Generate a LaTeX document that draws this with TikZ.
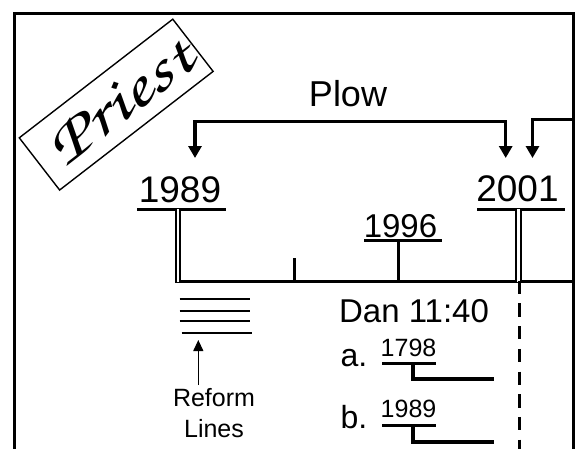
\documentclass[tikz,border=0pt]{standalone}
\usepackage{fontspec}
\usepackage{graphicx}
\setmainfont{Liberation Sans}
\usetikzlibrary{arrows.meta}
\tikzset{
  thick line/.style={line width=3.5pt},
  mid line/.style={line width=3pt},
  big arrow/.style={-{Triangle[width=13pt,length=12pt]}, line width=3.5pt},
  txt/.style={inner sep=0pt, anchor=base},
  dbl/.style={double, double distance=2.4pt, line width=1.9pt},
}
\newcommand{\fs}[1]{\fontsize{#1}{#1}\selectfont}
\begin{document}
\begin{tikzpicture}[x=1pt,y=-1pt]
\useasboundingbox (0,0) rectangle (577,448);
\fill[white] (0,0) rectangle (577,448);
% frame
\draw[line width=3pt] (14.5,449) -- (14.5,13.5) -- (573,13.5) -- (573,449);
% Priest box
\node[draw, line width=1.4pt, rotate=37.7, minimum width=194pt, minimum height=66pt, inner sep=0pt] (priestbox) at (116.2,104.6) {};
\node[rotate=37.7, inner sep=0pt, anchor=base] (priest) at (131.5,116.6) {\scalebox{1.35}[1]{\usefont{OT1}{pzc}{mb}{it}\fs{61}Priest}};
% Plow
\node[txt, font=\fs{36}] (plow) at (348,106.5) {Plow};
\coordinate (pl1) at (195,158);
\coordinate (pl2) at (505.7,158);
\draw[{Triangle[width=13pt,length=12pt]}-{Triangle[width=13pt,length=12pt]}, line width=3.5pt] (pl1) -- (pl1 |- 0,121.7) -- (pl2 |- 0,121.7) -- (pl2);
\coordinate (ar2s) at (573,119.5);
\coordinate (ar2e) at (532.5,158);
\draw[big arrow] (ar2s) -- (ar2e |- ar2s) -- (ar2e);
% years
\node[txt, font=\fs{37}] (y1989) at (180,202) {1989};
\node[txt, font=\fs{37}] (y2001) at (517.5,201.7) {2001};
\node[txt, font=\fs{33}] (y1996) at (400.5,237) {1996};
% underlines
\draw[thick line] (137,209.3) -- (225.7,209.3);
\draw[thick line] (477,209.3) -- (565,209.3);
\draw[thick line] (364,240.7) -- (442,240.7);
% timeline
\coordinate (tl0) at (175,281);
\coordinate (tl1) at (573,281);
\draw[mid line] (tl0) -- (tl1);
\draw[dbl] (177.8,209.3) -- (177.8,282);
\draw[dbl] (518.5,209.3) -- (518.5,282);
\draw[mid line] (398,240.7) -- (398,281);
\draw[mid line] (294,258) -- (294,281);
% dashed line
\draw[mid line, dash pattern=on 13.3pt off 9.4pt] (519,280.7) -- (519,449);
% reform lines
\draw[line width=2.2pt] (179.5,298.7) -- (250,298.7);
\draw[line width=2.2pt] (179.5,310.7) -- (250,310.7);
\draw[line width=2.2pt] (179.5,321.3) -- (250,321.3);
\draw[line width=2.2pt] (181.5,332.7) -- (251.5,332.7);
\coordinate (rfa) at (198.3,385);
\coordinate (rfb) at (198.3,340);
\draw[line width=1.2pt, -{Triangle[width=10pt,length=11pt]}] (rfa) -- (rfb);
\node[txt, font=\fs{25}] (reform) at (214,406) {Reform};
\node[txt, font=\fs{25}] (lines) at (214,437) {Lines};
% Dan 11:40
\node[txt, font=\fs{33}] (dan) at (414,322) {Dan 11:40};
\node[txt, anchor=base west, font=\fs{32}] (la) at (340.5,366) {a.};
\node[txt, anchor=base west, font=\fs{32}] (lb) at (340.5,428) {b.};
\node[txt, font=\fs{25}] (y1798) at (408.5,356) {1798};
\node[txt, font=\fs{25}] (y1989b) at (408.5,417.7) {1989};
\draw[thick line] (382,363.3) -- (435.7,363.3);
\draw[thick line] (413,363.3) -- (413,379) -- (494,379);
\draw[thick line] (382,425.7) -- (435.7,425.7);
\draw[thick line] (413,425.7) -- (413,442) -- (494,442);
\end{tikzpicture}
\end{document}
